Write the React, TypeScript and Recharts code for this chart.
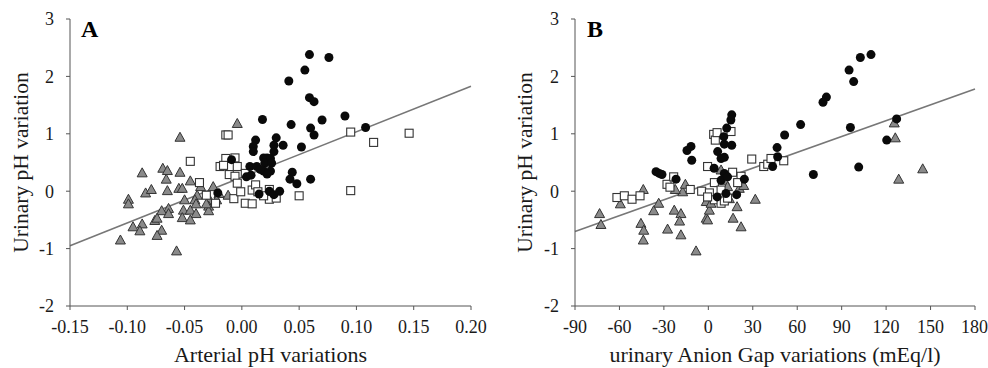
import React from "react";
import {
  ScatterChart,
  Scatter,
  XAxis,
  YAxis,
  ReferenceLine,
  Label,
} from "recharts";

// Panel A: arterial pH variation vs urinary pH variation
const aCircles = [
  [0.076, 2.33], [0.059, 2.38], [0.055, 2.11], [0.041, 1.92], [0.059, 1.63],
  [0.063, 1.56], [0.018, 1.25], [0.043, 1.16], [0.07, 1.24], [0.09, 1.31],
  [0.108, 1.11], [0.06, 1.1], [0.063, 0.98], [0.012, 0.89], [0.01, 0.78],
  [0.01, 0.69], [0.03, 0.93], [0.028, 0.8], [0.036, 0.8], [0.052, 0.77],
  [0.028, 0.69], [-0.009, 0.55], [0.007, 0.43], [0.013, 0.43], [0.019, 0.58],
  [0.022, 0.58], [0.025, 0.57], [0.02, 0.49], [0.026, 0.49], [0.019, 0.35],
  [0.025, 0.35], [0.022, 0.3], [0.004, 0.25], [0.044, 0.33], [0.042, 0.21],
  [0.048, 0.13], [0.06, 0.21], [-0.021, -0.03], [0.015, -0.05], [0.024, 0.0],
  [0.028, -0.06], [0.033, 0.0], [0.016, 0.38], [0.008, 0.28],
];
const aSquares = [
  [0.146, 1.01], [0.095, 1.03], [0.115, 0.85], [0.095, 0.01], [0.05, -0.08],
  [-0.014, 0.98], [-0.012, 0.98], [-0.045, 0.52], [-0.014, 0.57], [-0.006, 0.58],
  [-0.019, 0.43], [-0.016, 0.45], [-0.004, 0.43], [-0.011, 0.29], [-0.006, 0.26],
  [0.003, 0.31], [-0.037, 0.15], [-0.031, -0.07], [-0.023, -0.21], [-0.007, -0.13],
  [-0.004, 0.14], [-0.001, -0.01], [0.003, -0.21], [0.009, -0.22], [0.009, 0.02],
  [0.012, 0.11], [0.014, -0.01], [0.024, -0.14], [0.03, -0.12], [0.024, 0.03],
  [0.019, -0.08],
];
const aTriangles = [
  [-0.004, 1.18], [-0.054, 0.94], [-0.087, 0.32], [-0.069, 0.4], [-0.065, 0.36],
  [-0.066, 0.21], [-0.054, 0.33], [-0.084, -0.03], [-0.079, 0.03], [-0.065, 0.01],
  [-0.055, 0.05], [-0.052, 0.05], [-0.045, 0.18], [-0.099, -0.14], [-0.099, -0.22],
  [-0.05, -0.15], [-0.039, -0.07], [-0.041, -0.15], [-0.025, 0.08], [-0.02, -0.04],
  [-0.012, -0.07], [-0.028, -0.15], [-0.029, -0.26], [-0.04, -0.22], [-0.051, -0.33],
  [-0.045, -0.33], [-0.064, -0.3], [-0.07, -0.34], [-0.064, -0.39], [-0.04, -0.39],
  [-0.029, -0.34], [-0.052, -0.46], [-0.045, -0.5], [-0.076, -0.51], [-0.074, -0.47],
  [-0.07, -0.68], [-0.087, -0.57], [-0.095, -0.62], [-0.089, -0.69], [-0.074, -0.77],
  [-0.106, -0.85], [-0.057, -1.04], [-0.022, -0.15], [-0.036, 0.08], [-0.031, -0.22],
];
const aFit = [[-0.15, -0.95], [0.2, 1.83]];
const aTicks = [-0.15, -0.1, -0.05, 0, 0.05, 0.1, 0.15, 0.2];

// Panel B: urinary anion gap variation vs urinary pH variation
const bCircles = [
  [109.8, 2.38], [102.6, 2.33], [95.0, 2.11], [98.1, 1.91], [79.7, 1.64],
  [77.4, 1.55], [62.3, 1.16], [51.5, 0.98], [95.9, 1.11], [127.1, 1.26],
  [120.4, 0.89], [101.5, 0.42], [70.9, 0.29], [46.4, 0.76], [46.8, 0.6],
  [43.4, 0.43], [15.8, 1.33], [15.2, 1.24], [12.4, 1.1], [15.8, 0.8],
  [10.4, 0.95], [10.8, 0.82], [6.3, 0.69], [8.6, 0.57], [10.8, 0.59],
  [3.9, 0.4], [10.8, 0.31], [8.6, 0.19], [13.0, 0.25], [-11.7, 0.78],
  [-14.4, 0.71], [-11.2, 0.54], [-35.3, 0.34], [-33.1, 0.31], [-31.3, 0.29],
  [-21.8, 0.21], [24.3, 0.21], [19.1, -0.06], [11.9, -0.04], [6.0, -0.1],
];
const bSquares = [
  [-61.7, -0.11], [-56.7, -0.08], [-51.5, -0.14], [-46.1, -0.08], [-27.9, 0.12],
  [-23.4, 0.25], [-25.9, 0.07], [-12.2, 0.03], [-4.5, 0.0], [-0.5, 0.43],
  [4.1, 0.15], [3.6, 0.99], [4.7, 0.89], [5.9, 1.02], [15.3, 1.04],
  [29.3, 0.56], [37.4, 0.43], [40.1, 0.47], [42.3, 0.57], [50.9, 0.53],
  [16.4, 0.33], [22.1, 0.26], [19.8, 0.15], [8.6, 0.02], [0.7, -0.03],
  [4.1, -0.15], [8.6, -0.21], [10.8, -0.17], [13.0, -0.12], [-0.5, -0.1],
];
const bTriangles = [
  [-73.4, -0.39], [-72.5, -0.58], [-59.4, -0.22], [-43.9, 0.03], [-45.5, -0.56],
  [-43.6, -0.68], [-43.9, -0.85], [-33.5, -0.21], [-36.9, -0.34], [-27.5, -0.66],
  [-23.0, -0.33], [-18.5, -0.39], [-19.4, -0.52], [-18.5, -0.76], [-17.3, -0.01],
  [-15.5, 0.12], [-22.3, 0.03], [-8.3, -1.04], [-1.4, -0.47], [-0.5, -0.5],
  [-1.4, -0.18], [0.7, -0.33], [1.8, -0.21], [8.6, 0.37], [10.8, 0.19],
  [13.0, 0.08], [14.2, -0.13], [19.4, -0.27], [16.7, -0.47], [22.1, -0.62],
  [20.9, 0.05], [23.9, 0.1], [31.7, -0.14], [125.5, 1.19], [126.2, 0.93],
  [128.5, 0.21], [144.7, 0.39],
];
const bFit = [[-90, -0.7], [180, 1.78]];
const bTicks = [-90, -60, -30, 0, 30, 60, 90, 120, 150, 180];

const yTicks = [-2, -1, 0, 1, 2, 3];

const FONT = '"Liberation Serif", "Times New Roman", serif';
const TEXT = "#1a1a1a";
const AXIS = "#555";

const toPts = (arr: number[][]) => arr.map(([x, y]) => ({ x, y }));

const Dot = (p: any) => <circle cx={p.cx} cy={p.cy} r={4.5} fill="#0a0a0a" />;
const Box = (p: any) => (
  <rect x={p.cx - 4} y={p.cy - 4} width={8} height={8} fill="#fff" stroke="#333" strokeWidth={1.1} />
);
const Tri = (p: any) => (
  <path
    d={`M${p.cx},${p.cy - 5}L${p.cx + 5},${p.cy + 4}L${p.cx - 5},${p.cy + 4}Z`}
    fill="#8a8a8a"
    stroke="#333"
    strokeWidth={1}
  />
);

interface PanelProps {
  letter: string;
  xTitle: string;
  circles: number[][];
  squares: number[][];
  triangles: number[][];
  fit: number[][];
  xTicks: number[];
  fmt: (v: number) => string;
  yAxisWidth: number;
  rightMargin: number;
  titleX: number;
  letterX: number;
}

function Panel(props: PanelProps) {
  const { xTicks, fit } = props;
  return (
    <ScatterChart
      width={494}
      height={368}
      margin={{ top: 19, right: props.rightMargin, bottom: 0, left: 0 }}
      style={{ fontFamily: FONT }}
    >
      <XAxis
        type="number"
        dataKey="x"
        domain={[xTicks[0], xTicks[xTicks.length - 1]]}
        ticks={xTicks}
        tickFormatter={props.fmt}
        allowDataOverflow
        height={62}
        tickSize={4}
        tickMargin={10}
        stroke={AXIS}
        tick={{ fill: TEXT, fontSize: 18, fontFamily: FONT }}
      >
        <Label
          value={props.xTitle}
          position="insideBottom"
          offset={6}
          style={{ fill: TEXT, fontSize: 22, fontFamily: FONT }}
        />
      </XAxis>
      <YAxis
        type="number"
        dataKey="y"
        domain={[-2, 3]}
        ticks={yTicks}
        allowDataOverflow
        width={props.yAxisWidth}
        tickSize={4}
        tickMargin={12}
        stroke={AXIS}
        tick={{ fill: TEXT, fontSize: 18, fontFamily: FONT }}
      >
        <Label
          content={(lp: any) => {
            const vb = lp.viewBox || {};
            const cy = (vb.y ?? 19) + (vb.height ?? 287) / 2;
            return (
              <g>
                <text
                  transform={`translate(${props.titleX},${cy}) rotate(-90)`}
                  textAnchor="middle"
                  fill={TEXT}
                  fontSize={21.5}
                  fontFamily={FONT}
                >
                  Urinary pH variation
                </text>
                <text x={props.letterX} y={37} fill="#000" fontSize={24} fontWeight="bold" fontFamily={FONT}>
                  {props.letter}
                </text>
              </g>
            );
          }}
        />
      </YAxis>
      <ReferenceLine
        segment={[
          { x: fit[0][0], y: fit[0][1] },
          { x: fit[1][0], y: fit[1][1] },
        ]}
        stroke="#777"
        strokeWidth={1.6}
        ifOverflow="visible"
      />
      <Scatter data={toPts(props.triangles)} shape={Tri} isAnimationActive={false} />
      <Scatter data={toPts(props.squares)} shape={Box} isAnimationActive={false} />
      <Scatter data={toPts(props.circles)} shape={Dot} isAnimationActive={false} />
    </ScatterChart>
  );
}

export default function App() {
  return (
    <div style={{ position: "absolute", left: 0, top: 0, width: 988, height: 368, display: "flex", background: "#fff" }}>
      <Panel
        letter="A"
        xTitle="Arterial pH variations"
        circles={aCircles}
        squares={aSquares}
        triangles={aTriangles}
        fit={aFit}
        xTicks={aTicks}
        fmt={(v) => v.toFixed(2)}
        yAxisWidth={70}
        rightMargin={23}
        titleX={28}
        letterX={81}
      />
      <Panel
        letter="B"
        xTitle="urinary Anion Gap variations (mEq/l)"
        circles={bCircles}
        squares={bSquares}
        triangles={bTriangles}
        fit={bFit}
        xTicks={bTicks}
        fmt={(v) => String(v)}
        yAxisWidth={81}
        rightMargin={13}
        titleX={38}
        letterX={93}
      />
    </div>
  );
}
